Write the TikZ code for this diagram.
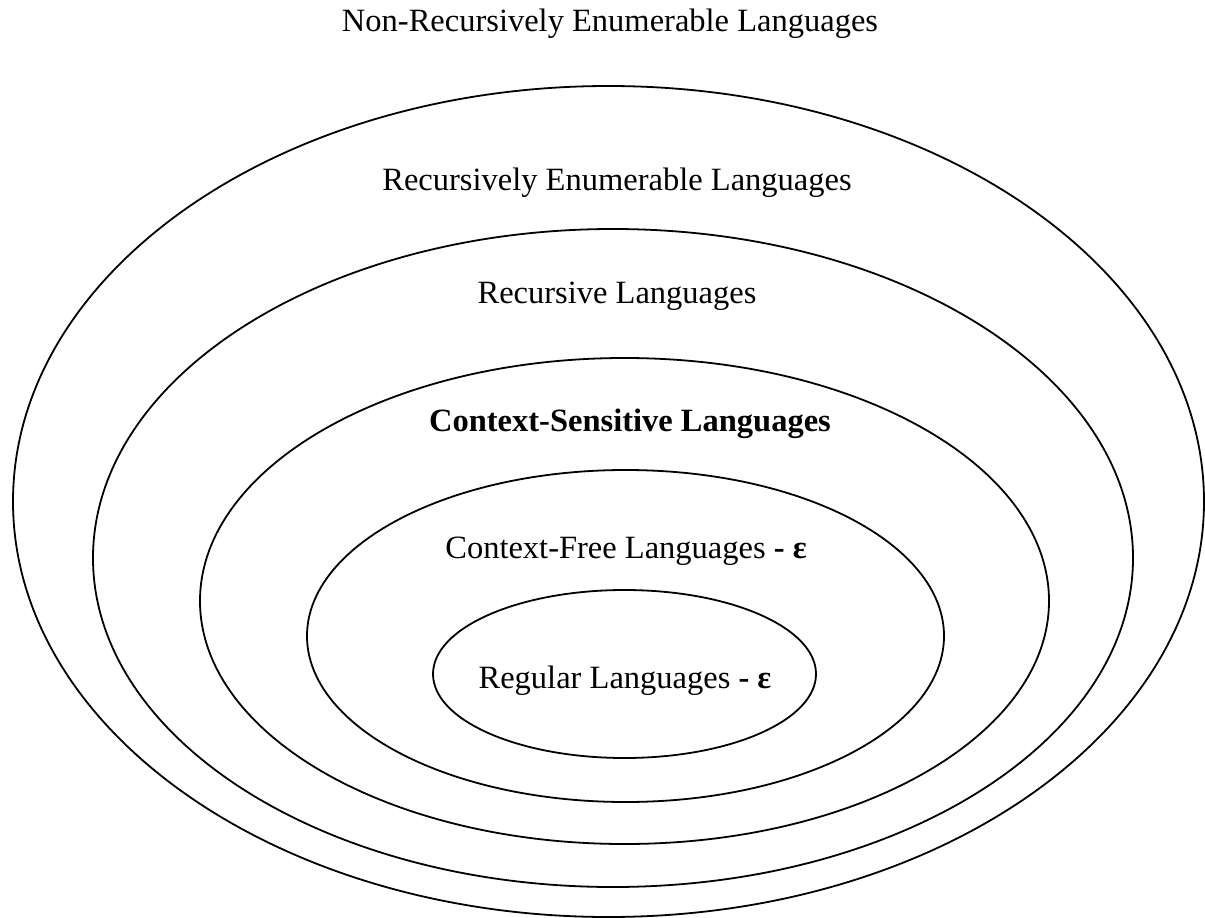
\documentclass[tikz,border=0pt]{standalone}
\usepackage{fontspec}
\setmainfont{Liberation Serif}
\usetikzlibrary{shapes.geometric}
\begin{document}
\begin{tikzpicture}[x=1pt,y=-1pt,
  ring/.style={draw=black,line width=1.8pt,ellipse,inner sep=0pt},
  lbl/.style={anchor=base,inner sep=0pt,font=\fontsize{32.5}{38}\selectfont}]
\useasboundingbox (0,0) rectangle (1205,918);
% nested language classes
\node[ring,minimum width=1191pt,minimum height=831pt] (re)  at (608.5,501.5) {};
\node[ring,minimum width=1040pt,minimum height=658pt] (rec) at (613,558) {};
\node[ring,minimum width=849pt,minimum height=486pt]  (cs)  at (624.5,601) {};
\node[ring,minimum width=637pt,minimum height=332pt]  (cf)  at (625.5,636) {};
\node[ring,minimum width=383pt,minimum height=168pt]  (reg) at (624.5,674) {};
% labels
\node[lbl] (tnre)  at (610,31)  {Non-Recursively Enumerable Languages};
\node[lbl] (tre)   at (617,190) {Recursively Enumerable Languages};
\node[lbl] (trec)  at (617,303) {Recursive Languages};
\node[lbl] (tcs)   at (630,431) {\textbf{Context-Sensitive Languages}};
\node[lbl] (tcf)   at (626,558) {Context-Free Languages \textbf{- ε}};
\node[lbl] (treg)  at (625,688) {Regular Languages \textbf{- ε}};
\end{tikzpicture}
\end{document}
